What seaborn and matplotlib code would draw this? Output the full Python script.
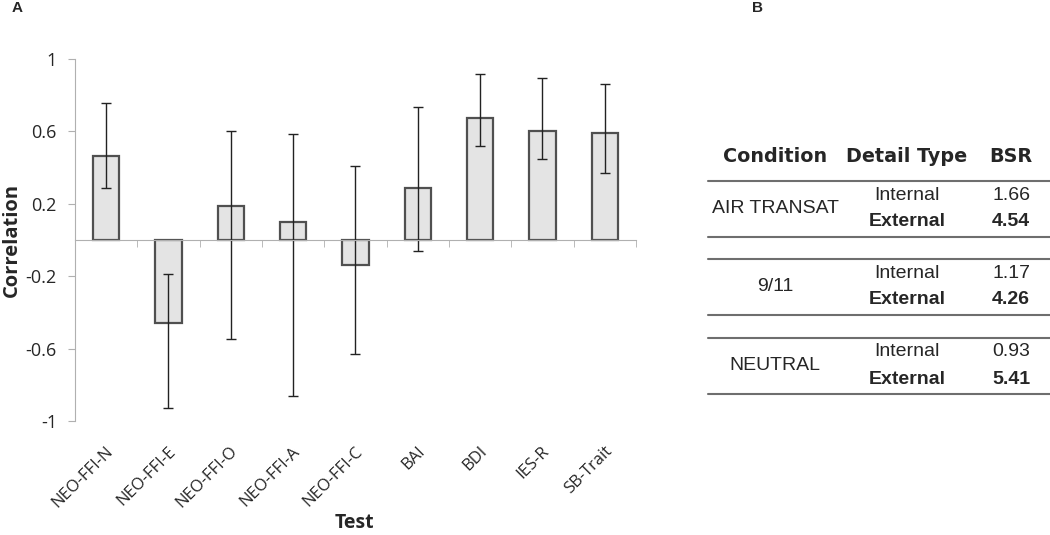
import numpy as np
import matplotlib
matplotlib.use('Agg')
import matplotlib.pyplot as plt
import matplotlib.transforms as mtransforms
import seaborn as sns

# panel A data
tests = ['NEO-FFI-N', 'NEO-FFI-E', 'NEO-FFI-O', 'NEO-FFI-A', 'NEO-FFI-C',
         'BAI', 'BDI', 'IES-R', 'SB-Trait']
corr = np.array([0.464, -0.457, 0.188, 0.101, -0.138, 0.286, 0.672, 0.600, 0.589])
ci_low = np.array([0.286, -0.926, -0.545, -0.864, -0.632, -0.061, 0.521, 0.449, 0.372])
ci_high = np.array([0.755, -0.188, 0.604, 0.584, 0.410, 0.733, 0.915, 0.893, 0.860])
yticks = [1, 0.6, 0.2, -0.2, -0.6, -1]

# panel B data
conditions = ['AIR TRANSAT', '9/11', 'NEUTRAL']
detail_types = ['Internal', 'External']
bsr = [[1.66, 4.54], [1.17, 4.26], [0.93, 5.41]]
headers = ['Condition', 'Detail Type', 'BSR']

sns.set_style('white')
plt.rcParams['font.family'] = ['Open Sans', 'DejaVu Sans']

fig = plt.figure(figsize=(10.5, 5.35), dpi=100)
ax = fig.add_axes([0.0714, 0.213, 0.5343, 0.6766])

sns.barplot(x=tests, y=corr, color='#e4e4e4', width=0.42, edgecolor='#505050',
            linewidth=1.6, errorbar=None, saturation=1, ax=ax)
ax.errorbar(np.arange(len(tests)), corr, yerr=[corr - ci_low, ci_high - corr],
            fmt='none', ecolor='#222222', elinewidth=1.0, capsize=3.5, capthick=1.0)

ax.set_ylim(-1, 1)
ax.set_xlim(-0.5, len(tests) - 0.5)
ax.set_yticks(yticks)
ax.set_yticklabels([('%g' % v) for v in yticks], fontsize=13)
ax.tick_params(axis='y', direction='out', length=5, color='#b0b0b0', left=True, pad=8)

for s in ['top', 'right']:
    ax.spines[s].set_visible(False)
ax.spines['left'].set_color('#b0b0b0')
ax.spines['bottom'].set_color('#b0b0b0')
ax.spines['bottom'].set_position(('data', 0))
ax.set_xticks(np.arange(len(tests) + 1) - 0.5, minor=True)
ax.tick_params(axis='x', which='minor', direction='out', length=5, color='#b0b0b0', bottom=True)
ax.tick_params(axis='x', which='major', length=0, labelbottom=False)

sec = ax.secondary_xaxis('bottom')
sec.set_xticks(np.arange(len(tests)))
sec.set_xticklabels(tests, rotation=45, ha='right', rotation_mode='anchor', fontsize=12)
sec.tick_params(length=0, pad=16)
sec.spines['bottom'].set_visible(False)
shift = mtransforms.ScaledTranslation(-0.01, 0.0, fig.dpi_scale_trans)
for lab in sec.get_xticklabels():
    lab.set_transform(lab.get_transform() + shift)

fig.text(12 / 1050, 1 - 240 / 535, 'Correlation', fontsize=14.5, fontweight='bold',
         rotation=90, ha='center', va='center')
fig.text(0.338, 1 - 513 / 535, 'Test', fontsize=14, fontweight='bold', ha='center', va='top')
fig.text(12 / 1050, 1 - 8 / 535, 'A', family='Liberation Sans', fontsize=11,
         fontweight='bold', ha='left', va='center')
fig.text(752 / 1050, 1 - 8 / 535, 'B', family='Liberation Sans', fontsize=11,
         fontweight='bold', ha='left', va='center')

# panel B table
tx = fig.add_axes([0, 0, 1, 1])
tx.set_xlim(0, 1050)
tx.set_ylim(535, 0)
tx.axis('off')

col_x = [775, 907, 1011]
for h, cx in zip(headers, col_x):
    tx.text(cx, 157, h, family='DejaVu Sans', fontweight='bold', fontsize=13.8,
            ha='center', va='center')
tx.plot([708, 1050], [181, 181], color='#6e6e6e', lw=1.5)

group_top = [181, 259, 338]
for i, cond in enumerate(conditions):
    y0 = group_top[i]
    rows_y = [y0 + 14, y0 + 41]
    tx.text(col_x[0], (rows_y[0] + rows_y[1]) / 2, cond, family='Liberation Sans',
            fontsize=14, ha='center', va='center')
    for j, dt in enumerate(detail_types):
        w = 'bold' if dt == 'External' else 'normal'
        tx.text(col_x[1], rows_y[j], dt, family='Liberation Sans', fontsize=14,
                fontweight=w, ha='center', va='center')
        tx.text(col_x[2], rows_y[j], '%.2f' % bsr[i][j], family='Liberation Sans',
                fontsize=14, fontweight=w, ha='center', va='center')
    if i > 0:
        tx.plot([708, 1050], [y0, y0], color='#6e6e6e', lw=1.5)
    tx.plot([708, 1050], [y0 + 56, y0 + 56], color='#6e6e6e', lw=1.5)

fig.savefig('out.png', dpi=100)
